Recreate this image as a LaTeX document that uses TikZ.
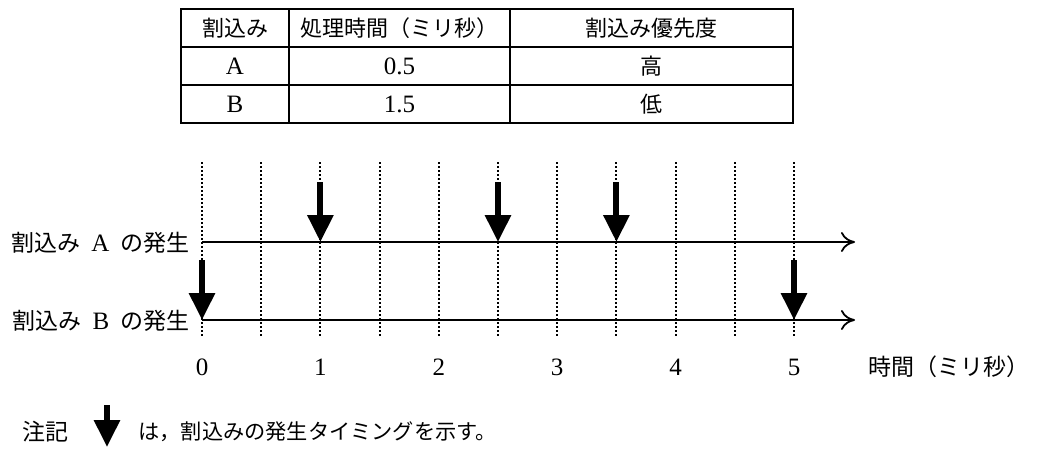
\documentclass[tikz,border=0pt]{standalone}
\usepackage{fontspec}
\setmainfont{Liberation Serif}
\newfontfamily\cjk{Noto Sans CJK JP}
\newcommand{\jp}[2][11]{{\cjk\fontsize{#1}{13}\selectfont #2}}
\usetikzlibrary{positioning}
\usetikzlibrary{arrows.meta}
\tikzset{
    cell/.style={
        draw,
        line width=0.8pt,
        outer sep=0pt,
        inner sep=0pt,
        minimum height=19pt},
    tick/.style={dash pattern=on 1pt off 1pt, line width=1pt},
    axis/.style={
        line width=0.9pt,
        -{To[length=7pt,width=10pt]}},
    event/.style={
        line width=3pt,
        -{Triangle[length=13.5pt,width=12.5pt]}}}

\begin{document}
\begin{tikzpicture}[x=0.5pt, y=-0.5pt, font=\fontsize{12.5}{14}\selectfont]
        \useasboundingbox (0,0) rectangle (1048,472);
        % table
        \node[cell, minimum width=54pt] (h1) at (235,28) {\jp{割込み}};
        \node[cell, minimum width=110.5pt, right=0pt of h1] (h2) {\jp{処理時間（ミリ秒）}};
        \node[cell, minimum width=141.5pt, right=0pt of h2] (h3) {\jp{割込み優先度}};
        \node[cell, minimum width=54pt, below=0pt of h1] (a1) {A};
        \node[cell, minimum width=110.5pt, right=0pt of a1] (a2) {0.5};
        \node[cell, minimum width=141.5pt, right=0pt of a2] (a3) {\jp{高}};
        \node[cell, minimum width=54pt, below=0pt of a1] (b1) {B};
        \node[cell, minimum width=110.5pt, right=0pt of b1] (b2) {1.5};
        \node[cell, minimum width=141.5pt, right=0pt of b2] (b3) {\jp{低}};

        % time grid
        \foreach \i in {0,...,10}
            \draw[tick] (202+59.2*\i,162) -- (202+59.2*\i,338);
        \foreach \t in {0,...,5}
            \node (t\t) at (202+118.4*\t,367) {\t};
        \node[right, inner sep=0pt] (unit) at (868,367) {\jp[11.5]{時間（ミリ秒）}};

        % time lines
        \coordinate (A0) at (202,242);
        \coordinate (A1) at (855,242);
        \coordinate (B0) at (202,320);
        \coordinate (B1) at (855,320);
        \draw[axis] (A0) -- (A1);
        \draw[axis] (B0) -- (B1);
        \node[left, inner sep=0pt] (la) at (190,243) {\jp[11.5]{割込み}\hspace{0.45em}A\hspace{0.45em}\jp[11.5]{の発生}};
        \node[left, inner sep=0pt] (lb) at (190,321) {\jp[11.5]{割込み}\hspace{0.45em}B\hspace{0.45em}\jp[11.5]{の発生}};

        % interrupts
        \foreach \t in {1,2.5,3.5}
            \draw[event] (202+118.4*\t,182) -- (202+118.4*\t,242);
        \foreach \t in {0,5}
            \draw[event] (202+118.4*\t,260) -- (202+118.4*\t,320);

        % note
        \node[right, inner sep=0pt] (nt) at (22,432) {\jp[11.5]{注記}};
        \draw[event] (107,405) -- (107,447);
        \node[right, inner sep=0pt] (nx) at (138,432) {\jp[10.6]{は，割込みの発生タイミングを示す。}};
    \end{tikzpicture}
\end{document}
